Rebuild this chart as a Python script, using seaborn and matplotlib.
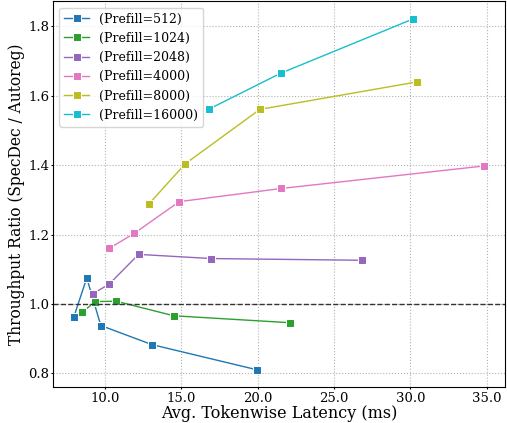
import pandas as pd
import seaborn as sns
import matplotlib.pyplot as plt
from matplotlib.ticker import FormatStrFormatter

# values
prefill_labels = ['(Prefill=512)', '(Prefill=1024)', '(Prefill=2048)',
                  '(Prefill=4000)', '(Prefill=8000)', '(Prefill=16000)']

lat_512 = [7.97, 8.82, 9.74, 13.08, 19.99]
ratio_512 = [0.962, 1.075, 0.938, 0.883, 0.810]

lat_1024 = [8.51, 9.39, 10.74, 14.52, 22.13]
ratio_1024 = [0.976, 1.007, 1.008, 0.966, 0.946]

lat_2048 = [9.23, 10.28, 12.21, 16.96, 26.86]
ratio_2048 = [1.030, 1.057, 1.143, 1.131, 1.126]

lat_4000 = [10.28, 11.94, 14.87, 21.55, 34.84]
ratio_4000 = [1.160, 1.204, 1.295, 1.333, 1.398]

lat_8000 = [12.86, 15.26, 20.15, 30.41]
ratio_8000 = [1.287, 1.404, 1.561, 1.640]

lat_16000 = [16.83, 21.50, 30.19]
ratio_16000 = [1.562, 1.665, 1.822]

plt.rcParams['font.family'] = 'DejaVu Serif'

rows = []
for lab, xs, ys in zip(prefill_labels,
                       [lat_512, lat_1024, lat_2048, lat_4000, lat_8000, lat_16000],
                       [ratio_512, ratio_1024, ratio_2048, ratio_4000, ratio_8000, ratio_16000]):
    for x, y in zip(xs, ys):
        rows.append({'Prefill': lab, 'latency': x, 'ratio': y})
df = pd.DataFrame(rows)

colors = ['tab:blue', 'tab:green', 'tab:purple', 'tab:pink', 'tab:olive', 'tab:cyan']

fig, ax = plt.subplots(figsize=(5.07, 4.23), dpi=100)
fig.subplots_adjust(left=0.105, right=0.996, bottom=0.084, top=0.997)
sns.lineplot(data=df, x='latency', y='ratio', hue='Prefill', hue_order=prefill_labels,
             palette=colors, marker='s', markersize=5.5, linewidth=1.0,
             sort=False, estimator=None, ax=ax)
ax.axhline(1.0, color='#333333', linestyle='--', linewidth=1.0)

ax.grid(True, linestyle=':', color='gray', linewidth=0.8, alpha=0.6)
ax.xaxis.set_major_formatter(FormatStrFormatter('%.1f'))
ax.yaxis.set_major_formatter(FormatStrFormatter('%.1f'))
ax.tick_params(labelsize=9.5, length=1.5, pad=1.5)
ax.set_xlabel('Avg. Tokenwise Latency (ms)', fontsize=11.5, labelpad=0)
ax.set_ylabel('Throughput Ratio (SpecDec / Autoreg)', fontsize=11.2, labelpad=2)
ax.legend(loc='upper left', fontsize=9, title=None)

plt.savefig('out.png', dpi=100)
